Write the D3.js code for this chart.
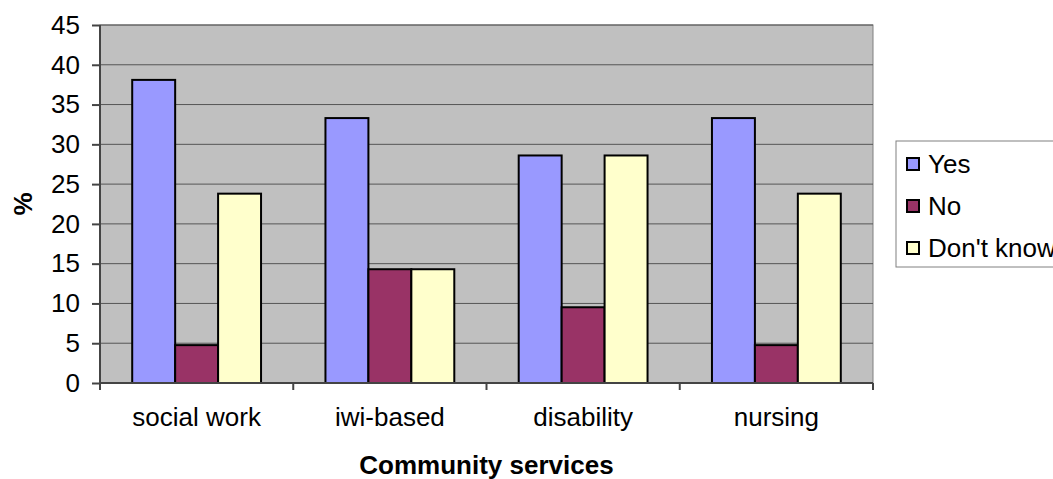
<!DOCTYPE html>
<html>
<head>
    <script src="https://d3js.org/d3.v7.min.js"></script>
    <style>
        body { margin: 0; background: #ffffff; }
        svg text { font-family: 'Liberation Sans', Arial, sans-serif; fill: #000; }
    </style>
</head>
<body>
    <svg id="chart" width="1053" height="479"></svg>
    <script>
        var categories = ["social work", "iwi-based", "disability", "nursing"];
        var seriesNames = ["Yes", "No", "Don't know"];
        var yesValues = [38.1, 33.3, 28.6, 33.3];
        var noValues = [4.76, 14.3, 9.52, 4.76];
        var dontKnowValues = [23.8, 14.3, 28.6, 23.8];
        var yTicks = [0, 5, 10, 15, 20, 25, 30, 35, 40, 45];
        var colors = ["#9999ff", "#993366", "#ffffcc"];

        var series = [yesValues, noValues, dontKnowValues];

        var svg = d3.select("#chart");
        var plotLeft = 100, plotTop = 25, plotRight = 873, plotBottom = 383;
        var fontSize = "26px";

        var xScale = d3.scaleBand()
            .domain(categories)
            .range([plotLeft, plotRight])
            .paddingInner(0)
            .paddingOuter(0);
        // gap width 150% -> 0.75 bar on each side of the group
        var inner = d3.scaleBand()
            .domain(seriesNames)
            .range([0, xScale.bandwidth()])
            .paddingInner(0)
            .paddingOuter(0.75);
        var yScale = d3.scaleLinear()
            .domain([0, 45])
            .range([plotBottom, plotTop]);

        // plot background
        svg.append("rect")
            .attr("x", plotLeft).attr("y", plotTop)
            .attr("width", plotRight - plotLeft).attr("height", plotBottom - plotTop)
            .style("fill", "#c0c0c0")
            .style("stroke", "#808080")
            .style("stroke-width", 1);

        // gridlines
        svg.append("g").selectAll("line")
            .data(yTicks.slice(1))
            .enter().append("line")
            .attr("x1", plotLeft).attr("x2", plotRight)
            .attr("y1", function (d) { return yScale(d); })
            .attr("y2", function (d) { return yScale(d); })
            .style("stroke", "#555")
            .style("stroke-width", 1);

        // bars
        categories.forEach(function (cat, ci) {
            svg.append("g").selectAll("rect")
                .data(seriesNames)
                .enter().append("rect")
                .attr("x", function (s) { return xScale(cat) + inner(s); })
                .attr("y", function (s, si) { return yScale(series[si][ci]); })
                .attr("width", inner.bandwidth())
                .attr("height", function (s, si) { return plotBottom - yScale(series[si][ci]); })
                .style("fill", function (s, si) { return colors[si]; })
                .style("stroke", "#000")
                .style("stroke-width", 2);
        });

        // y axis
        var yAxis = d3.axisLeft(yScale)
            .tickValues(yTicks)
            .tickSize(8)
            .tickPadding(12);
        var yg = svg.append("g")
            .attr("transform", "translate(" + plotLeft + ",0)")
            .call(yAxis);
        yg.selectAll("line,path").style("stroke", "#444").style("stroke-width", 2);
        yg.select("path").attr("d", "M0," + plotTop + "V" + plotBottom);
        yg.selectAll("text").style("font-size", fontSize).style("fill", "#000");

        // x axis
        var xAxis = d3.axisBottom(xScale).tickSize(0).tickPadding(25);
        var xg = svg.append("g")
            .attr("transform", "translate(0," + plotBottom + ")")
            .call(xAxis);
        xg.select("path").attr("d", "M" + plotLeft + ",0H" + plotRight).style("stroke", "#444").style("stroke-width", 2);
        xg.selectAll("text").style("font-size", fontSize).style("fill", "#000");
        xg.selectAll(".sep")
            .data(categories.map(function (c) { return xScale(c); }).concat([plotRight]))
            .enter().append("line")
            .attr("x1", function (d) { return d; }).attr("x2", function (d) { return d; })
            .attr("y1", 0).attr("y2", 7)
            .style("stroke", "#444").style("stroke-width", 2);

        // axis titles
        svg.append("text")
            .attr("x", (plotLeft + plotRight) / 2).attr("y", 474)
            .attr("text-anchor", "middle")
            .style("font-size", fontSize).style("font-weight", "bold")
            .text("Community services");
        svg.append("text")
            .attr("transform", "translate(32," + ((plotTop + plotBottom) / 2) + ") rotate(-90)")
            .attr("text-anchor", "middle")
            .style("font-size", fontSize).style("font-weight", "bold")
            .text("%");

        // legend
        var legend = svg.append("g").attr("transform", "translate(896,141)");
        legend.append("rect")
            .attr("x", 0).attr("y", 0).attr("width", 180).attr("height", 126)
            .style("fill", "#fff").style("stroke", "#808080").style("stroke-width", 1);
        seriesNames.forEach(function (s, i) {
            var row = legend.append("g").attr("transform", "translate(0," + (23 + i * 42) + ")");
            row.append("rect")
                .attr("x", 11).attr("y", -6).attr("width", 12).attr("height", 12)
                .style("fill", colors[i]).style("stroke", "#000").style("stroke-width", 2);
            row.append("text")
                .attr("x", 32).attr("y", 9)
                .style("font-size", fontSize)
                .text(s);
        });
    </script>
</body>
</html>
